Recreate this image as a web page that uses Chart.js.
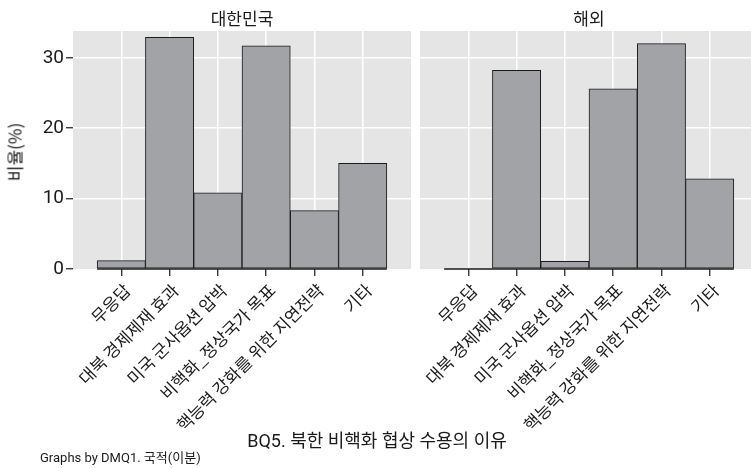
<!DOCTYPE html>
<html>
<head>
<meta charset="utf-8">
<script src="https://cdn.jsdelivr.net/npm/chart.js@4/dist/chart.umd.min.js"></script>
<style>
  html, body { margin: 0; padding: 0; width: 751px; height: 468px; overflow: hidden; background: #fff; }
  body { position: relative; font-family: Roboto, "Noto Sans CJK KR", sans-serif; color: #1a1a1a; }
  .panel { position: absolute; top: 0; height: 440px; }
  #koreaBox { left: 0; width: 411px; }
  #abroadBox { left: 420px; width: 338px; }
  .lbl { position: absolute; line-height: 1; white-space: nowrap; transform: translate(-50%, -50%); }
  .panelTitle { font-family: "Noto Sans CJK KR", sans-serif; font-size: 17px; top: 17px; }
  #yTitle { font-family: "Noto Sans CJK KR", sans-serif; font-size: 17px; left: 14px; top: 152px; transform: translate(-50%, -50%) rotate(-90deg); }
  #xTitle { font-size: 18px; left: 377px; top: 441px; }
  #note { position: absolute; left: 40px; top: 451px; font-size: 13px; line-height: 1; white-space: nowrap; }
</style>
</head>
<body>
<div class="panel" id="koreaBox"><canvas id="korea"></canvas></div>
<div class="panel" id="abroadBox"><canvas id="abroad"></canvas></div>
<div class="lbl panelTitle" style="left:242px">대한민국</div>
<div class="lbl panelTitle" style="left:589px">해외</div>
<div class="lbl" id="yTitle">비율(%)</div>
<div class="lbl" id="xTitle">BQ5. 북한 비핵화 협상 수용의 이유</div>
<div id="note">Graphs by DMQ1. 국적(이분)</div>

<script>
// Reasons for accepting North Korean denuclearisation talks (percent of respondents)
const categories = [
  "무응답",
  "대북 경제제재 효과",
  "미국 군사옵션 압박",
  "비핵화_정상국가 목표",
  "핵능력 강화를 위한 지연전략",
  "기타"
];
const koreaValues  = [1.2, 32.9, 10.8, 31.7, 8.3, 15.0];
const abroadValues = [0.0, 28.2, 1.1, 25.6, 32.0, 12.8];
const yTickValues  = [0, 10, 20, 30];
const yMax = 33.8;

const PLOT_BG = "#e5e5e5";
const BAR_FILL = "#a2a3a7";
const INK = "#1a1a1a";

Chart.defaults.font.family = "Noto Sans CJK KR";

// Grey plot background plus a baseline that spans only the bars
const panelDecor = {
  id: "panelDecor",
  beforeDraw(chart) {
    const { ctx, chartArea: a } = chart;
    ctx.save();
    ctx.fillStyle = PLOT_BG;
    ctx.fillRect(a.left, a.top, a.right - a.left, a.bottom - a.top);
    ctx.restore();
  },
  afterDatasetsDraw(chart) {
    const { ctx, scales: { x, y } } = chart;
    const yb = y.getPixelForValue(0);
    ctx.save();
    ctx.strokeStyle = INK;
    ctx.lineWidth = 1.3;
    ctx.beginPath();
    ctx.moveTo(x.getPixelForValue(0.5), yb);
    ctx.lineTo(x.getPixelForValue(categories.length + 0.5), yb);
    ctx.stroke();
    ctx.restore();
  }
};

function makePanel(canvasId, values, showYAxis) {
  return new Chart(document.getElementById(canvasId), {
    type: "bar",
    data: {
      datasets: [{
        data: values.map((v, i) => ({ x: i + 1, y: v })),
        backgroundColor: BAR_FILL,
        borderColor: INK,
        borderWidth: 1,
        borderSkipped: false,
        barPercentage: 1,
        categoryPercentage: 1
      }]
    },
    plugins: [panelDecor],
    options: {
      responsive: true,
      maintainAspectRatio: false,
      animation: false,
      events: [],
      layout: { padding: { top: 31, left: 0, right: 0, bottom: 0 } },
      plugins: { legend: { display: false }, tooltip: { enabled: false }, title: { display: false } },
      scales: {
        x: {
          type: "linear",
          offset: false,
          min: 0,
          max: categories.length + 1,
          afterBuildTicks: (s) => { s.ticks = categories.map((_, i) => ({ value: i + 1 })); },
          afterFit: (s) => { s.height = 171; },
          border: { display: false },
          grid: { offset: false, color: "#ffffff", lineWidth: 1.5, drawTicks: true, tickLength: 7, tickColor: INK, tickWidth: 1.2 },
          ticks: {
            autoSkip: false,
            minRotation: 45,
            maxRotation: 45,
            padding: 4,
            labelOffset: 6,
            color: INK,
            font: { family: "Noto Sans CJK KR", size: 17 },
            callback: (v) => categories[v - 1] ?? ""
          }
        },
        y: {
          min: 0,
          max: yMax,
          afterBuildTicks: (s) => { s.ticks = yTickValues.map(v => ({ value: v })); },
          afterFit: (s) => { s.width = showYAxis ? 73 : 0; },
          border: { display: false },
          grid: {
            color: (c) => (c.tick && c.tick.value === 0) ? "rgba(0,0,0,0)" : "#ffffff",
            lineWidth: 1.5,
            drawTicks: showYAxis,
            tickLength: 7,
            tickColor: INK,
            tickWidth: 1.2
          },
          ticks: {
            display: showYAxis,
            includeBounds: false,
            padding: 2,
            color: INK,
            font: { family: "Roboto", size: 19 }
          }
        }
      }
    }
  });
}

makePanel("korea", koreaValues, true);
makePanel("abroad", abroadValues, false);
</script>
</body>
</html>
